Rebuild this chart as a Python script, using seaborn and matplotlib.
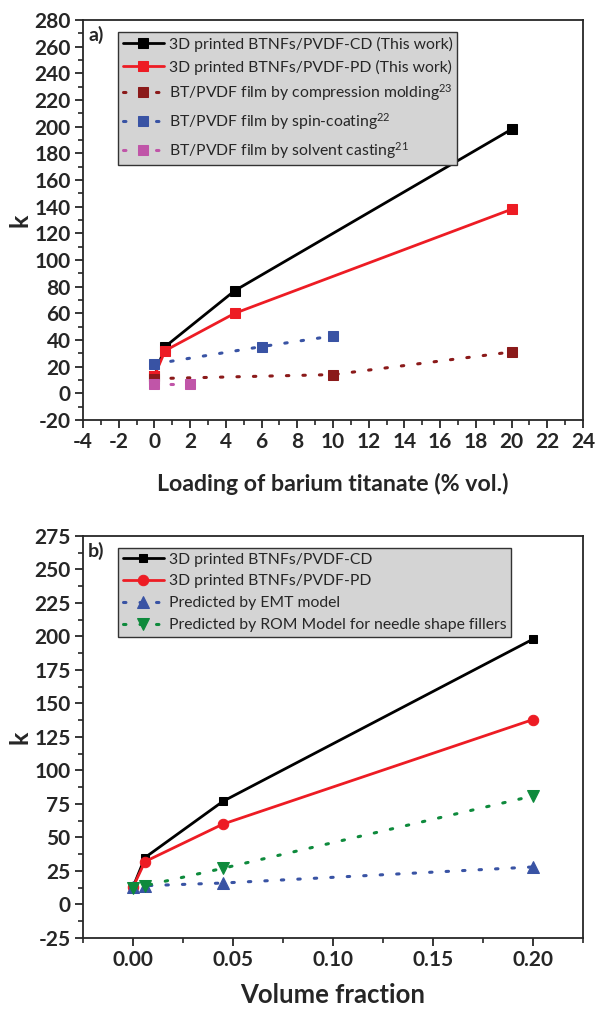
import numpy as np
import pandas as pd
import matplotlib
matplotlib.use("Agg")
import matplotlib.pyplot as plt
import seaborn as sns
from matplotlib.ticker import MultipleLocator, FormatStrFormatter

# Panel a data
load_3d = [0, 0.6, 4.5, 20]
k_cd_a = [13, 35, 77, 198]
k_pd_a = [13, 32, 60, 138]
load_cm = [0, 10, 20]
k_cm = [11, 14, 31]
load_spin = [0, 6, 10]
k_spin = [22, 35, 43]
load_sc = [0, 2]
k_sc = [7, 7]

# Panel b data
vf = [0, 0.006, 0.045, 0.2]
k_cd_b = [13, 35, 77, 198]
k_pd_b = [13, 32, 60, 138]
k_emt = [13, 14, 16, 28]
k_rom = [12, 14, 27, 81]

sns.set_style("ticks")
plt.rcParams['font.family'] = ['Lato', 'DejaVu Sans']
plt.rcParams['mathtext.default'] = 'regular'
plt.rcParams['axes.unicode_minus'] = False

BLACK = '#000000'
RED = '#ed1c24'
DRED = '#8b1a1a'
BLUE = '#3953a4'
PINK = '#c055a8'
GREEN = '#0e8a3c'
dot = (0, (0.8, 4.6))

fig = plt.figure(figsize=(5.95, 10.09), dpi=100)
ax1 = fig.add_axes([0.1395, 0.5838, 0.8403, 0.3964])
ax2 = fig.add_axes([0.1395, 0.0704, 0.8403, 0.3984])


def draw(ax, x, y, label, color, marker, ls, ms, lw):
    df = pd.DataFrame({'x': x, 'y': y})
    sns.lineplot(data=df, x='x', y='y', ax=ax, color=color, marker=marker,
                 markersize=ms, markeredgecolor=color, linestyle=ls,
                 linewidth=lw, label=label, dash_capstyle='round')


draw(ax1, load_3d, k_cd_a, '3D printed BTNFs/PVDF-CD (This work)', BLACK, 's', '-', 6.5, 2.0)
draw(ax1, load_3d, k_pd_a, '3D printed BTNFs/PVDF-PD (This work)', RED, 's', '-', 6.5, 2.0)
draw(ax1, load_cm, k_cm, 'BT/PVDF film by compression molding$^{23}$', DRED, 's', dot, 6.5, 2.2)
draw(ax1, load_spin, k_spin, 'BT/PVDF film by spin-coating$^{22}$', BLUE, 's', dot, 6.5, 2.2)
draw(ax1, load_sc, k_sc, 'BT/PVDF film by solvent casting$^{21}$', PINK, 's', dot, 6.5, 2.2)

draw(ax2, vf, k_cd_b, '3D printed BTNFs/PVDF-CD', BLACK, 's', '-', 5.5, 2.0)
draw(ax2, vf, k_pd_b, '3D printed BTNFs/PVDF-PD', RED, 'o', '-', 7.5, 2.0)
draw(ax2, vf, k_emt, 'Predicted by EMT model', BLUE, '^', dot, 8, 2.2)
draw(ax2, vf, k_rom, 'Predicted by ROM Model for needle shape fillers', GREEN, 'v', dot, 8, 2.2)

ax1.set_xlim(-4, 24)
ax1.set_ylim(-20, 280)
ax1.xaxis.set_major_locator(MultipleLocator(2))
ax1.xaxis.set_minor_locator(MultipleLocator(1))
ax1.yaxis.set_major_locator(MultipleLocator(20))
ax1.yaxis.set_minor_locator(MultipleLocator(10))
ax1.set_xlabel('Loading of barium titanate (% vol.)', fontsize=16.7, fontweight='bold', labelpad=15)

ax2.set_xlim(-0.025, 0.225)
ax2.set_ylim(-25, 275)
ax2.xaxis.set_major_locator(MultipleLocator(0.05))
ax2.xaxis.set_minor_locator(MultipleLocator(0.025))
ax2.yaxis.set_major_locator(MultipleLocator(25))
ax2.yaxis.set_minor_locator(MultipleLocator(12.5))
ax2.xaxis.set_major_formatter(FormatStrFormatter('%.2f'))
ax2.set_xlabel('Volume fraction', fontsize=18.5, fontweight='bold', labelpad=9)

for ax, tag in [(ax1, 'a)'), (ax2, 'b)')]:
    ax.set_ylabel('k', fontsize=18, fontweight='bold', labelpad=2)
    for s in ax.spines.values():
        s.set_linewidth(1.3)
    ax.tick_params(which='major', length=6, width=1.3, labelsize=15, pad=3)
    ax.tick_params(which='minor', length=3.5, width=1.2)
    for lab in ax.get_xticklabels() + ax.get_yticklabels():
        lab.set_fontweight('bold')
    ax.text(0.01, 0.985, tag, transform=ax.transAxes, fontsize=14,
            fontweight='bold', va='top', ha='left')
    leg = ax.legend(loc='upper left', bbox_to_anchor=(0.055, 0.99), fontsize=11.3,
                    frameon=True, fancybox=False, facecolor='#d4d4d4',
                    edgecolor='#333333', framealpha=1, handlelength=2.6,
                    borderpad=0.3, labelspacing=0.5, handletextpad=0.3)
    leg.get_frame().set_linewidth(1.0)

fig.savefig('out.png', dpi=100)
